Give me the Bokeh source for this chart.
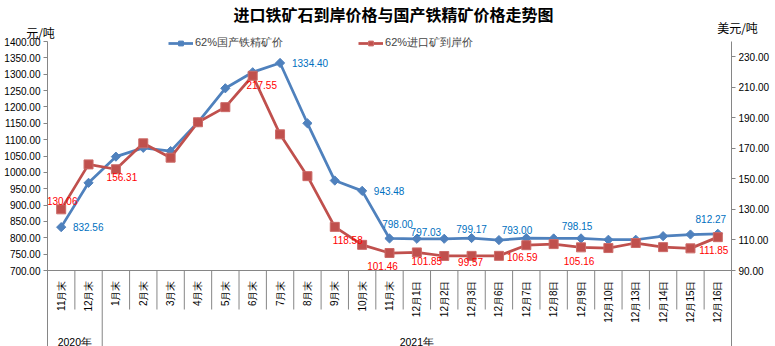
import numpy as np
from bokeh.plotting import figure
from bokeh.models import (Range1d, LinearAxis, FixedTicker, PrintfTickFormatter,
                          ColumnDataSource, Legend, LegendItem)
from bokeh.core.properties import value
from bokeh.embed import file_html
from bokeh.resources import INLINE

# ---------------- data ----------------
categories = ["11月末", "12月末", "1月末", "2月末", "3月末", "4月末", "5月末", "6月末",
              "7月末", "8月末", "9月末", "10月末", "11月末", "12月1日", "12月2日",
              "12月3日", "12月6日", "12月7日", "12月8日", "12月9日", "12月10日",
              "12月13日", "12月14日", "12月15日", "12月16日"]
year_groups = ["2020年", "2021年"]
year_spans = [2, 23]

domestic_62 = [832.56, 968, 1048, 1075, 1065, 1153, 1257, 1306, 1334.40, 1150,
               975, 943.48, 798.00, 797.03, 797, 799.17, 793.00, 799, 798, 798.15,
               794, 794, 805, 810, 812.27]
import_62 = [130.06, 159.5, 156.31, 173.3, 163.9, 187.1, 197.0, 217.55, 179.2, 151.8,
             118.58, 106.8, 101.46, 101.85, 99.5, 99.57, 99.6, 106.59, 107.3, 105.16,
             104.7, 108.0, 105.3, 104.5, 111.85]

domestic_label_idx = [0, 8, 11, 12, 13, 15, 16, 19, 24]
import_label_idx = [0, 2, 7, 10, 12, 13, 15, 17, 19, 24]

left_ticks = list(range(700, 1401, 50))
right_ticks = list(range(90, 231, 20))

series_names = ["62%国产铁精矿价", "62%进口矿到岸价"]
title_text = "进口铁矿石到岸价格与国产铁精矿价格走势图"
left_unit = "元/吨"
right_unit = "美元/吨"

# ---------------- layout / style ----------------
W, H = 775, 346
FL, FR = 47, 731              # pixel columns of the two value axes
Y_TOP_PX, Y_BOT_PX = 41, 270  # pixel rows of axis max / min
L_MIN, L_MAX = 700, 1400
R_MIN, R_MAX = 90, 240
GRAY = "#868686"
BLUE = "#4F81BD"
RED = "#C0504D"
BLUE_TXT = "#0070C0"
RED_TXT = "#FF0000"

n = len(categories)
cw = (FR - FL) / n
lper = (L_MAX - L_MIN) / (Y_BOT_PX - Y_TOP_PX)
rper = (R_MAX - R_MIN) / (Y_BOT_PX - Y_TOP_PX)
ys, ye = L_MIN - (H - Y_BOT_PX) * lper, L_MAX + Y_TOP_PX * lper
rs, re_ = R_MIN - (H - Y_BOT_PX) * rper, R_MAX + Y_TOP_PX * rper
xs, xe = -FL / cw, n + (W - FR) / cw


def ypx(py):
    return ye - py * lper


def xpx(px):
    return (px - FL) / cw


# label offsets (screen px) -- style only
dom_off = [(27, 0), (30, 0), (27, 0), (8, -14), (9, -7), (0, -9), (18, -10), (-4, -12), (-7, -15)]
imp_off = [(1, -8), (6, 8), (9, 9), (13, 13), (-7, 13), (10, 9), (-1, 6), (-4, 12), (-2, 14), (-4, 13)]

p = figure(width=W, height=H, x_range=Range1d(xs, xe), y_range=Range1d(ys, ye),
           x_axis_location=None, y_axis_location=None, min_border=0,
           toolbar_location=None, output_backend="svg", outline_line_color=None,
           background_fill_color="white", border_fill_color="white")
p.grid.visible = False
p.extra_y_ranges = {"usd": Range1d(rs, re_)}

axis_style = dict(axis_line_color=GRAY, major_tick_line_color=GRAY, major_tick_out=4,
                  major_tick_in=0, minor_tick_out=0, minor_tick_in=0, major_label_standoff=3,
                  major_label_text_font_size="10px", major_label_text_font="Liberation Sans",
                  major_label_text_color="#000000",
                  formatter=PrintfTickFormatter(format="%.2f"))
left = LinearAxis(fixed_location=0, bounds=(ys, L_MAX),
                  ticker=FixedTicker(ticks=left_ticks, minor_ticks=[]), **axis_style)
right = LinearAxis(fixed_location=n, y_range_name="usd", bounds=(rs, R_MAX),
                   ticker=FixedTicker(ticks=right_ticks, minor_ticks=[]), **axis_style)
p.add_layout(left, "left")
p.add_layout(right, "right")

x = [i + 0.5 for i in range(n)]

# category axis line and separators
p.segment(x0=[0], y0=[L_MIN], x1=[n], y1=[L_MIN], line_color=GRAY, line_width=1)
group_bounds = [int(b) for b in np.cumsum(year_spans)[:-1]]
short_b = [b for b in range(1, n) if b not in group_bounds]
p.segment(x0=short_b, y0=[L_MIN] * len(short_b), x1=short_b, y1=[ypx(309)] * len(short_b),
          line_color=GRAY, line_width=1)
p.segment(x0=group_bounds, y0=[L_MIN] * len(group_bounds), x1=group_bounds,
          y1=[ys] * len(group_bounds), line_color=GRAY, line_width=1)

p.text(x=x, y=[ypx(280)] * n, text=categories, angle=np.pi / 2, text_align="right",
       text_baseline="middle", text_font=value("Liberation Sans"), text_font_size="10px",
       text_color="#000000")
starts = [0] + [int(s) for s in np.cumsum(year_spans)[:-1]]
gx = [s + sp / 2 for s, sp in zip(starts, year_spans)]
p.text(x=gx, y=[ypx(341)] * len(gx), text=year_groups, text_align="center",
       text_baseline="middle", text_font=value("Liberation Sans"), text_font_size="10.5px",
       text_color="#000000")

# series
bl = p.line(x, domestic_62, line_color=BLUE, line_width=2.75)
bs = p.scatter(x, domestic_62, marker="square", angle=np.pi / 4, size=6.5,
               fill_color=BLUE, line_color=BLUE)
rl = p.line(x, import_62, y_range_name="usd", line_color=RED, line_width=2.75)
rsq = p.scatter(x, import_62, y_range_name="usd", marker="square", size=9,
                fill_color=RED, line_color="#CC6B68")

dsrc = ColumnDataSource(dict(
    x=[x[i] for i in domestic_label_idx], y=[domestic_62[i] for i in domestic_label_idx],
    t=["%.2f" % domestic_62[i] for i in domestic_label_idx],
    xo=[o[0] for o in dom_off], yo=[o[1] for o in dom_off]))
p.text(x="x", y="y", text="t", x_offset="xo", y_offset="yo", source=dsrc,
       text_align="center", text_baseline="middle", text_font=value("Liberation Sans"),
       text_font_size="10px", text_color=BLUE_TXT)
isrc = ColumnDataSource(dict(
    x=[x[i] for i in import_label_idx], y=[import_62[i] for i in import_label_idx],
    t=["%.2f" % import_62[i] for i in import_label_idx],
    xo=[o[0] for o in imp_off], yo=[o[1] for o in imp_off]))
p.text(x="x", y="y", text="t", x_offset="xo", y_offset="yo", source=isrc, y_range_name="usd",
       text_align="center", text_baseline="middle", text_font=value("Liberation Sans"),
       text_font_size="10px", text_color=RED_TXT)

# title and unit captions
p.text(x=[xpx(393)], y=[ypx(13)], text=[title_text], text_align="center", text_baseline="middle",
       text_font=value("Noto Sans CJK SC"), text_font_style="bold", text_font_size="16px",
       text_color="#000000")
p.text(x=[xpx(40)], y=[ypx(32)], text=[left_unit], text_align="center", text_baseline="middle",
       text_font=value("Noto Sans CJK SC"), text_font_size="12px", text_color="#000000")
p.text(x=[xpx(737)], y=[ypx(27)], text=[right_unit], text_align="center", text_baseline="middle",
       text_font=value("Noto Sans CJK SC"), text_font_size="12px", text_color="#000000")

# legend (row centred near y=42 of the page)
legend = Legend(items=[LegendItem(label=series_names[0], renderers=[bl, bs]),
                       LegendItem(label=series_names[1], renderers=[rl, rsq])],
                orientation="horizontal", location=(168, H - 50), padding=0, margin=0,
                spacing=75, glyph_width=25, glyph_height=12, label_height=12, label_standoff=2,
                label_text_font_size="11px", label_text_font="Liberation Sans",
                border_line_color=None, background_fill_alpha=0)
p.add_layout(legend)

open("out.html", "w").write(file_html(p, INLINE))
